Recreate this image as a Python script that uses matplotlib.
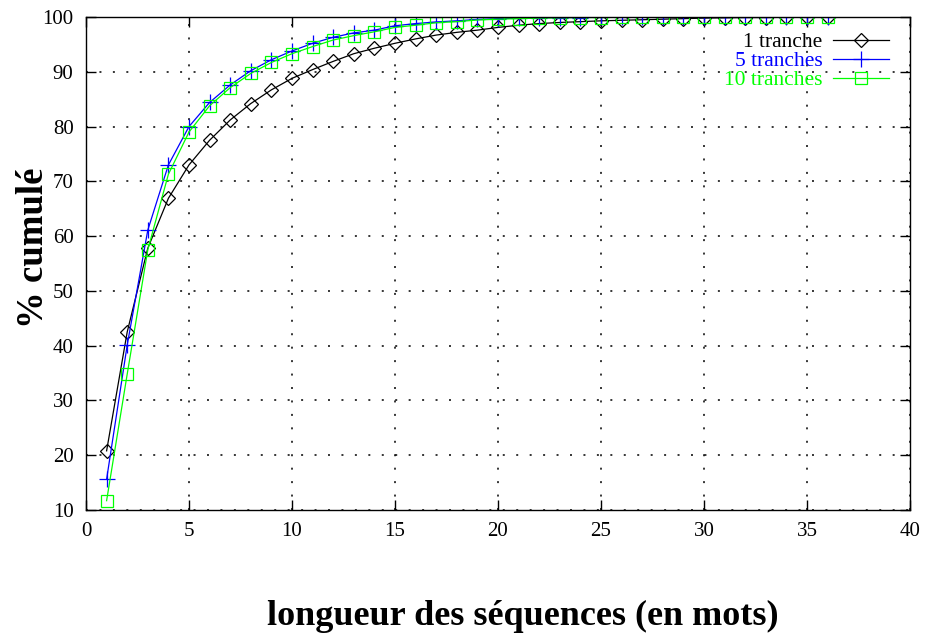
import matplotlib
matplotlib.use("Agg")
from matplotlib import pyplot as plt

plt.rcParams['font.family'] = ['Liberation Serif', 'DejaVu Serif']

# longueur des séquences (en mots)
longueurs = list(range(1, 37))

tranche1 = [20.8, 42.5, 57.8, 66.9, 73.0, 77.5, 81.2, 84.2, 86.7, 88.8,
            90.4, 91.9, 93.3, 94.3, 95.2, 96.0, 96.7, 97.2, 97.6, 98.1,
            98.5, 98.8, 99.0, 99.15, 99.3, 99.4, 99.5, 99.6, 99.7, 99.8,
            99.85, 99.9, 99.9, 99.95, 99.95, 100.0]
tranches5 = [15.6, 40.1, 61.1, 73.0, 80.0, 84.4, 87.6, 90.2, 92.2, 93.8,
             95.2, 96.3, 97.1, 97.6, 98.4, 98.8, 99.1, 99.3, 99.55, 99.7,
             99.8, 99.85, 99.9, 99.9, 99.95, 99.95, 99.95, 100.0, 100.0, 100.0,
             100.0, 100.0, 100.0, 100.0, 100.0, 100.0]
tranches10 = [11.7, 34.8, 57.5, 71.3, 79.0, 83.8, 87.1, 89.7, 91.7, 93.3,
              94.6, 95.8, 96.6, 97.3, 98.1, 98.5, 98.95, 99.15, 99.45, 99.6,
              99.7, 99.8, 99.85, 99.9, 99.9, 99.95, 99.95, 100.0, 100.0, 100.0,
              100.0, 100.0, 100.0, 100.0, 100.0, 100.0]

xticks = list(range(0, 41, 5))
yticks = list(range(10, 101, 10))

fig = plt.figure(figsize=(9.26, 6.36), dpi=100)
ax = fig.add_axes([86/926, 1-510/636, 824/926, 493/636])

ax.plot(longueurs, tranche1, color='black', lw=0.9, marker='D', ms=7,
        mfc='none', mec='black', mew=0.9, label='1 tranche')
ax.plot(longueurs, tranches5, color='#0000ff', lw=0.9, marker='+', ms=11,
        mew=0.9, label='5 tranches')
ax.plot(longueurs, tranches10, color='#00ff00', lw=0.9, marker='s', ms=9,
        mfc='none', mec='#00ff00', mew=0.9, label='10 tranches')

ax.set_xlim(0, 40)
ax.set_ylim(10, 100)
ax.set_xticks(xticks)
ax.set_yticks(yticks)
ax.tick_params(direction='in', length=7, width=1, top=True, right=True,
               labelsize=15, pad=9)
ax.grid(True, color='black', linestyle=(0, (1.3, 7.5)), linewidth=1.1)
for s in ax.spines.values():
    s.set_linewidth(1.0)

ax.set_ylabel('% cumulé', fontsize=26.5, fontweight='bold')
ax.yaxis.set_label_coords(-0.043, 0.532)
ax.set_xlabel('longueur des séquences (en mots)', fontsize=26, fontweight='bold')
ax.xaxis.set_label_coords(0.53, -0.183)

leg = ax.legend(loc='upper right', bbox_to_anchor=(0.985, 0.987), frameon=False,
                markerfirst=False, fontsize=15.5, handlelength=2.6,
                handletextpad=0.5, labelspacing=-0.05, borderaxespad=0,
                labelcolor='linecolor')

fig.savefig('out.png', dpi=100)
